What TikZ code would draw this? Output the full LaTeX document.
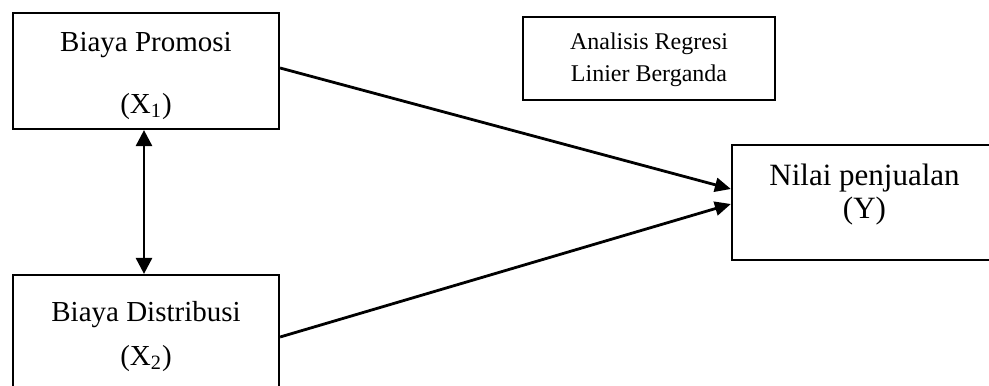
\documentclass[tikz,border=0pt]{standalone}
\usepackage{fontspec}
\setmainfont{Liberation Serif}
\usetikzlibrary{arrows.meta}
\tikzset{
    kotak/.style={draw,line width=1.1pt,inner sep=0pt},
    panah/.style={line width=1.4pt,-{Triangle[length=8pt,width=7pt]}},
    teks/.style={anchor=base,inner sep=0pt,font=\fontsize{14.5}{17}\selectfont}
}

\begin{document}
\begin{tikzpicture}[x=0.5pt,y=-0.5pt]
\clip (0,0) rectangle (989,385);
\node[kotak,minimum width=133pt,minimum height=58pt] (p1) at (146,71) {};
\node[kotak,minimum width=133pt,minimum height=62pt] (p2) at (146,337) {};
\node[kotak,minimum width=132.5pt,minimum height=57.5pt] (y) at (864.5,202.5) {};
\node[kotak,minimum width=126pt,minimum height=41.5pt] (reg) at (649,58.5) {};
\node[teks] (p1nama) at (146,52) {Biaya Promosi};
\node[teks] (p1sim) at (146,113) {(X\textsubscript{1})};
\node[teks] (p2nama) at (146,321) {Biaya Distribusi};
\node[teks] (p2sim) at (146,365) {(X\textsubscript{2})};
\node[teks,font=\fontsize{15.5}{18}\selectfont] (ynama) at (864.5,185) {Nilai penjualan};
\node[teks,font=\fontsize{15.5}{18}\selectfont] (ysim) at (864.5,218) {(Y)};
\node[teks,font=\fontsize{12}{14}\selectfont] (reg1) at (649,50) {Analisis Regresi};
\node[teks,font=\fontsize{12}{14}\selectfont] (reg2) at (649,82) {Linier Berganda};
\draw[panah] ([yshift=1.5pt]p1.east) -- ([yshift=6.75pt]y.west);
\draw[panah] (p2.east) -- ([yshift=-0.75pt]y.west);
\draw[panah,{Triangle[length=8pt,width=8pt]}-{Triangle[length=8pt,width=8pt]}] ([xshift=-1pt]p1.south) -- ([xshift=-1pt]p2.north);
\end{tikzpicture}
\end{document}
